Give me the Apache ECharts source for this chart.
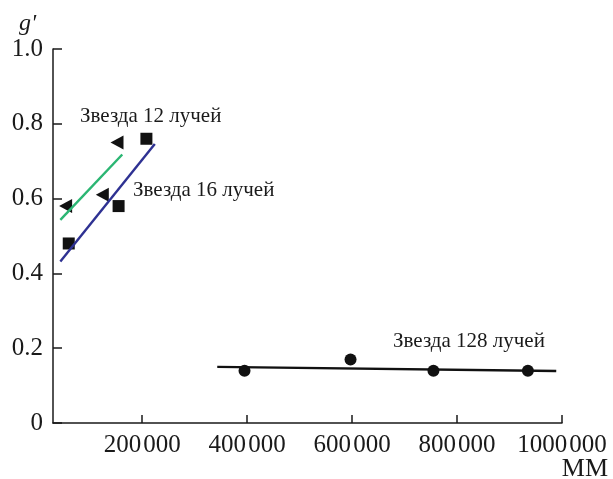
<!DOCTYPE html>
<html>
<head>
<meta charset="utf-8">
<script src="https://cdn.jsdelivr.net/npm/echarts@6/dist/echarts.min.js"></script>
<style>
    html, body { margin: 0; padding: 0; background: #fff; }
    #chart { width: 613px; height: 479px; }
</style>
</head>
<body>
<div id="chart"></div>
<script>
    // данные
    const xTicks = [200000, 400000, 600000, 800000, 1000000]
    const star12 = [[54000, 0.58], [124000, 0.61], [152000, 0.75]]
    const star16 = [[60000, 0.48], [155000, 0.58], [208000, 0.76]]
    const star128 = [[395000, 0.14], [597000, 0.17], [755000, 0.14], [935000, 0.14]]
    const fit12 = [[44000, 0.543], [162000, 0.718]]
    const fit16 = [[44000, 0.432], [224000, 0.746]]
    const fit128 = [[343000, 0.15], [989000, 0.139]]

    const serif = '"Liberation Serif", "DejaVu Serif", serif'
    let myChart = echarts.init(document.getElementById('chart'))

    let option = {
        animation: false,
        grid: {
            left: 53,
            right: 51,
            top: 49,
            bottom: 56
        },
        xAxis: {
            type: 'value',
            min: 30000,
            max: 1000000,
            axisLine: { lineStyle: { color: '#1a1a1a', width: 1.5 } },
            axisTick: {
                inside: true,
                length: 8,
                customValues: xTicks,
                lineStyle: { color: '#1a1a1a', width: 1.5 }
            },
            axisLabel: {
                customValues: xTicks,
                margin: 10,
                color: '#1a1a1a',
                fontFamily: serif,
                fontSize: 25,
                formatter: v => {
                    let s = String(v)
                    return s.slice(0, s.length - 3) + '\u200A' + s.slice(-3)
                }
            },
            splitLine: { show: false }
        },
        yAxis: {
            type: 'value',
            min: 0,
            max: 1,
            interval: 0.2,
            axisLine: { show: true, lineStyle: { color: '#1a1a1a', width: 1.5 } },
            axisTick: {
                show: true,
                inside: true,
                length: 9,
                lineStyle: { color: '#1a1a1a', width: 1.5 }
            },
            axisLabel: {
                margin: 10,
                color: '#1a1a1a',
                fontFamily: serif,
                fontSize: 25,
                formatter: v => v === 0 ? '0' : v.toFixed(1)
            },
            splitLine: { show: false }
        },
        graphic: [
            {
                type: 'text', left: 19, top: 12,
                style: { text: "g'", font: 'italic 24px ' + serif, fill: '#1a1a1a' }
            },
            {
                type: 'text', right: 5, top: 456,
                style: { text: 'MM', font: '26px ' + serif, fill: '#1a1a1a' }
            },
            {
                type: 'text', left: 80, top: 106,
                style: { text: 'Звезда 12 лучей', font: '21px ' + serif, fill: '#1a1a1a' }
            },
            {
                type: 'text', left: 133, top: 180,
                style: { text: 'Звезда 16 лучей', font: '21px ' + serif, fill: '#1a1a1a' }
            },
            {
                type: 'text', left: 393, top: 331,
                style: { text: 'Звезда 128 лучей', font: '21px ' + serif, fill: '#1a1a1a' }
            }
        ],
        series: [
            {
                type: 'line', data: fit12, symbol: 'none',
                lineStyle: { color: '#2bb673', width: 2.4 }
            },
            {
                type: 'line', data: fit16, symbol: 'none',
                lineStyle: { color: '#2e3192', width: 2.4 }
            },
            {
                type: 'line', data: fit128, symbol: 'none',
                lineStyle: { color: '#111', width: 2.4 }
            },
            {
                type: 'scatter', data: star12, symbol: 'triangle', symbolSize: [14, 13],
                symbolRotate: 90,
                itemStyle: { color: '#111', opacity: 1 }
            },
            {
                type: 'scatter', data: star16, symbol: 'rect', symbolSize: 12,
                itemStyle: { color: '#111', opacity: 1 }
            },
            {
                type: 'scatter', data: star128, symbol: 'circle', symbolSize: 12,
                itemStyle: { color: '#111', opacity: 1 }
            }
        ]
    }
    myChart.setOption(option)
</script>
</body>
</html>
